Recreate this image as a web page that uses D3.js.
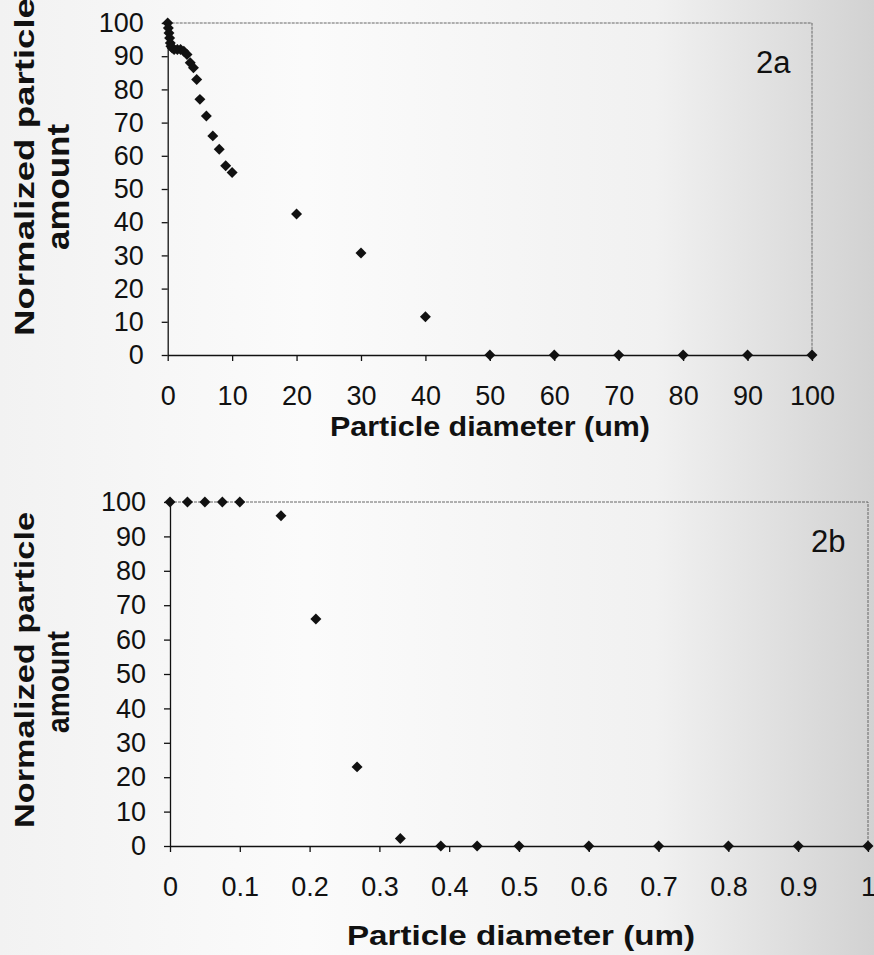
<!DOCTYPE html>
<html>
<head>
<meta charset="utf-8">
<script src="https://cdn.jsdelivr.net/npm/d3@7"></script>
<style>
  body { margin: 0; padding: 0; }
  svg { display: block; font-family: "Liberation Sans", Arial, sans-serif; }
  .tick text { font-size: 27px; fill: #111; }
  .domain, .tick line { stroke: #111; stroke-width: 1.3px; }
  .ttl { font-weight: bold; fill: #111; }
</style>
</head>
<body>
<svg width="874" height="955"></svg>
<script>
// figure 2a: particle diameter in um, normalized amount
var diamA = [0, 0.1, 0.2, 0.3, 0.4, 0.5, 0.7, 1, 1.5, 2, 2.5, 3, 3.5, 4, 4.5, 5, 6, 7, 8, 9, 10, 20, 30, 40, 50, 60, 70, 80, 90, 100];
var amountA = [100, 98.5, 97, 95.5, 94, 93, 92.5, 92, 92, 92, 91.5, 90.5, 88, 86.5, 83, 77, 72, 66, 62, 57, 55, 42.5, 30.7, 11.5, 0, 0, 0, 0, 0, 0];
var ticksXA = [0, 10, 20, 30, 40, 50, 60, 70, 80, 90, 100];

// figure 2b
var diamB = [0, 0.025, 0.05, 0.075, 0.1, 0.159, 0.209, 0.268, 0.33, 0.388, 0.44, 0.5, 0.6, 0.7, 0.8, 0.9, 1];
var amountB = [100, 100, 100, 100, 100, 96, 66, 23, 2.2, 0, 0, 0, 0, 0, 0, 0, 0];
var ticksXB = [0, 0.1, 0.2, 0.3, 0.4, 0.5, 0.6, 0.7, 0.8, 0.9, 1];

var ticksY = [0, 10, 20, 30, 40, 50, 60, 70, 80, 90, 100];

var svg = d3.select("svg");

var defs = svg.append("defs");
var grad = defs.append("linearGradient").attr("id", "bg").attr("x1", 0).attr("x2", 1).attr("y1", 0).attr("y2", 0);
grad.append("stop").attr("offset", "0%").attr("stop-color", "#f2f2f2");
grad.append("stop").attr("offset", "35%").attr("stop-color", "#fbfbfb");
grad.append("stop").attr("offset", "75%").attr("stop-color", "#f1f1f1");
grad.append("stop").attr("offset", "100%").attr("stop-color", "#d2d2d2");
svg.append("rect").attr("width", 874).attr("height", 955).attr("fill", "url(#bg)");

var diamond = {
  draw: function(ctx, size) {
    var r = Math.sqrt(size / 2);
    ctx.moveTo(0, -r); ctx.lineTo(r, 0); ctx.lineTo(0, r); ctx.lineTo(-r, 0); ctx.closePath();
  }
};

function panel(cfg) {
  var x = d3.scaleLinear().domain([0, cfg.xmax]).range([cfg.left, cfg.right]);
  var y = d3.scaleLinear().domain([0, 100]).range([cfg.bottom, cfg.top]);
  var g = svg.append("g");

  // top / right frame
  g.append("path")
      .attr("d", "M" + cfg.left + "," + cfg.top + "H" + cfg.right + "V" + cfg.bottom)
      .attr("fill", "none").attr("stroke", "#666").attr("stroke-width", 1).attr("stroke-dasharray", "3,1");

  g.append("g")
      .attr("transform", "translate(" + cfg.left + ",0)")
      .call(d3.axisLeft(y).tickValues(ticksY).tickSize(6).tickSizeOuter(0).tickPadding(18));

  g.append("g")
      .attr("transform", "translate(0," + cfg.bottom + ")")
      .call(d3.axisBottom(x).tickValues(cfg.ticks).tickFormat(d3.format("")).tickSize(6).tickSizeOuter(0).tickPadding(25));

  g.selectAll(".domain").attr("stroke", "#111");

  g.selectAll(".pt")
    .data(cfg.xs)
    .enter().append("path")
      .attr("class", "pt")
      .attr("transform", function(d, i) { return "translate(" + x(d) + "," + y(cfg.ys[i]) + ")"; })
      .attr("d", d3.symbol().type(diamond).size(60))
      .attr("fill", "#111");

  g.append("text").attr("class", "ttl")
      .attr("x", cfg.xtitle[0]).attr("y", cfg.xtitle[1])
      .attr("font-size", 28)
      .attr("textLength", cfg.xtitle[2]).attr("lengthAdjust", "spacingAndGlyphs")
      .text("Particle diameter (um)");

  g.append("text").attr("class", "ttl")
      .attr("transform", "translate(34," + cfg.ytitle[0] + ") rotate(-90)")
      .attr("font-size", 28)
      .attr("textLength", cfg.ytitle[1]).attr("lengthAdjust", "spacingAndGlyphs")
      .text("Normalized particle");

  g.append("text").attr("class", "ttl")
      .attr("transform", "translate(69," + cfg.ytitle[2] + ") rotate(-90)")
      .attr("font-size", 32)
      .attr("textLength", cfg.ytitle[3]).attr("lengthAdjust", "spacingAndGlyphs")
      .text("amount");

  g.append("text")
      .attr("x", cfg.tag[0]).attr("y", cfg.tag[1])
      .attr("font-size", 31).attr("fill", "#111")
      .text(cfg.tag[2]);
}

panel({
  xmax: 100, left: 167.7, right: 812, top: 23, bottom: 355,
  xs: diamA, ys: amountA, ticks: ticksXA,
  xtitle: [330, 436, 320], ytitle: [336, 338, 250, 126], tag: [756, 73, "2a"]
});

panel({
  xmax: 1, left: 170, right: 868, top: 502, bottom: 846,
  xs: diamB, ys: amountB, ticks: ticksXB,
  xtitle: [347, 945, 348], ytitle: [828, 316, 733, 102], tag: [811, 552, "2b"]
});
</script>
</body>
</html>
